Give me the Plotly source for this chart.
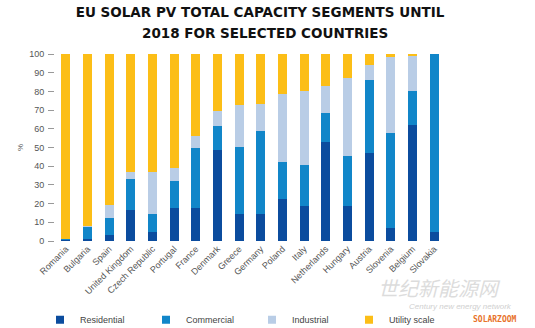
import plotly.graph_objects as go

countries = ["Romania", "Bulgaria", "Spain", "United Kingdom", "Czech Republic", "Portugal",
             "France", "Denmark", "Greece", "Germany", "Poland", "Italy", "Netherlands",
             "Hungary", "Austria", "Slovenia", "Belgium", "Slovakia"]
residential = [1.0, 1.0, 3.4, 16.8, 5.0, 17.9, 17.5, 48.6, 14.3, 14.6, 22.5, 18.7, 53.0, 18.7, 46.8, 7.1, 61.8, 5.0]
commercial = [0.3, 6.5, 8.9, 16.1, 9.6, 14.4, 32.0, 13.0, 36.1, 44.3, 20.0, 22.0, 15.6, 26.5, 39.5, 50.6, 18.6, 95.0]
industrial = [0.0, 0.4, 6.7, 3.9, 22.5, 6.8, 6.8, 7.7, 22.5, 14.5, 36.3, 39.3, 14.3, 41.9, 7.8, 40.7, 18.9, 0.0]
utility = [98.7, 92.1, 81.0, 63.2, 62.9, 60.9, 43.7, 30.7, 27.1, 26.6, 21.2, 20.0, 17.1, 12.9, 5.9, 1.6, 0.7, 0.0]
y_ticks = [0, 10, 20, 30, 40, 50, 60, 70, 80, 90, 100]
title_line1 = "EU SOLAR PV TOTAL CAPACITY SEGMENTS UNTIL"
title_line2 = "2018 FOR SELECTED COUNTRIES"

series = [
    ("Residential", residential, "#0b4c9e"),
    ("Commercial", commercial, "#1186c9"),
    ("Industrial", industrial, "#b9cde6"),
    ("Utility scale", utility, "#fcbe17"),
]
legend_ids = ["legend", "legend2", "legend3", "legend4"]
legend_x_px = [40, 146, 252, 349]

fig = go.Figure()
for name, vals, col in series:
    fig.add_trace(go.Bar(x=countries, y=vals, name=name, marker_color=col,
                         marker_line_width=0, showlegend=False))
# legend entries with small square symbols, one legend box per entry
for (name, vals, col), lid in zip(series, legend_ids):
    fig.add_trace(go.Scatter(x=[None], y=[None], mode="markers", name=name, legend=lid,
                             marker=dict(symbol="square", size=8, color=col)))

title_font = dict(family="DejaVu Sans, sans-serif", size=13.5, color="#111", weight="bold")

fig.update_layout(
    width=535, height=328,
    barmode="stack", bargap=0.58,
    margin=dict(l=55, r=90, t=54, b=87, autoexpand=False),
    paper_bgcolor="white", plot_bgcolor="white",
    font=dict(family="Liberation Sans, Arial, sans-serif", color="#444"),
    title=dict(text=title_line1, x=0.486, xanchor="center", y=0.963, yanchor="middle",
               font=title_font),
    xaxis=dict(tickangle=-45, tickfont=dict(size=9, color="#555"), showline=False,
               ticks="", showgrid=False, automargin=False),
    yaxis=dict(range=[0, 100], tickvals=y_ticks, ticks="outside", ticklen=6, tickcolor="#999",
               tickfont=dict(size=9, color="#555"), showgrid=False, zeroline=False,
               showline=False, ticklabelstandoff=2, automargin=False,
               title=dict(text="%", font=dict(size=8, color="#555"), standoff=4)),
)
for lid, xp in zip(legend_ids, legend_x_px):
    fig.update_layout({lid: dict(orientation="h", xref="container", yref="container",
                                 x=xp / 535, xanchor="left", y=0.025, yanchor="middle",
                                 font=dict(size=9, color="#444"),
                                 bgcolor="rgba(0,0,0,0)")})

fig.add_annotation(text="<b>" + title_line2 + "</b>", xref="paper", yref="paper",
                   x=(265 - 55) / 390, y=1.112, showarrow=False, font=title_font,
                   xanchor="center", yanchor="middle")
fig.add_annotation(text="<i>世纪新能源网</i>", xref="paper", yref="paper", x=0.987, y=-0.25,
                   showarrow=False, font=dict(size=20, color="#dcdcdc",
                   family="Noto Sans CJK SC"), xanchor="center", yanchor="middle")
fig.add_annotation(text="<i>Century new energy network</i>", xref="paper", yref="paper",
                   x=1.04, y=-0.35, showarrow=False,
                   font=dict(size=8, color="#d0d0d0"), xanchor="center", yanchor="middle")
fig.add_annotation(text="<b>SOLARZOOM</b>", xref="paper", yref="paper", x=1.128, y=-0.42,
                   showarrow=False, font=dict(size=8, color="#e8732c",
                   family="DejaVu Sans Mono"), xanchor="center", yanchor="middle")

fig.write_html("out.html")
